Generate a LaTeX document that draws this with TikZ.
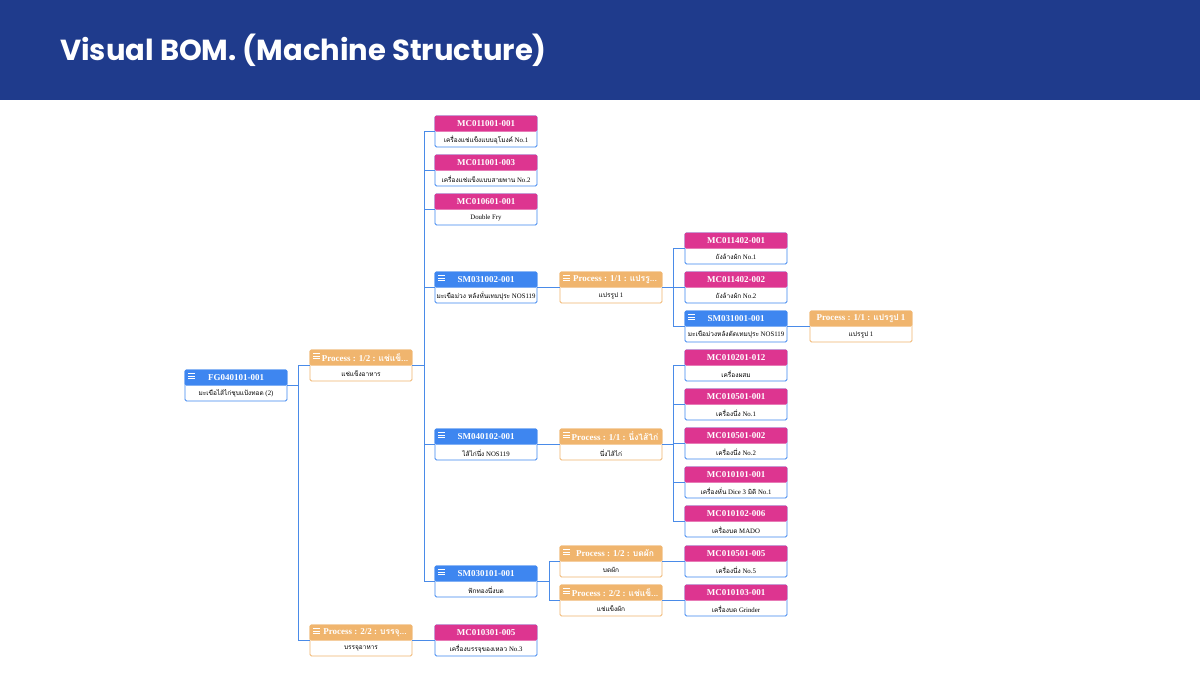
\documentclass[tikz,border=0pt]{standalone}
\usepackage{fontspec}
\setmainfont{Liberation Serif}
\newfontfamily\thaifont[Script=Thai]{Loma}
\newfontfamily\titlefont{Poppins}
\newcommand{\T}[1]{{\thaifont\fontsize{6.5}{7}\selectfont #1}}
\definecolor{hdr}{HTML}{1F3B8C}
\definecolor{cblue}{HTML}{3E86F0}
\definecolor{cpink}{HTML}{DD3590}
\definecolor{corg}{HTML}{F0B56E}
\definecolor{lnk}{HTML}{4A8BE8}
\tikzset{
  box/.style={draw=#1, fill=white, line width=0.8pt, rounded corners=1.5pt, minimum width=102pt, minimum height=31pt, inner sep=0pt},
  ttl/.style={text=white, font=\bfseries\fontsize{9}{10}\selectfont, inner sep=0pt},
  bdy/.style={text=black, font=\fontsize{6.8}{8}\selectfont, inner sep=0pt},
  lk/.style={draw=lnk, line width=1pt}
}
% name, x, y (top-left px), header color, title, body, icon(1/0), border color
\newcommand{\bom}[8]{%
  \node[box=#8] (#1) at (#2+51,#3+15.5) {};
  \fill[#4, rounded corners=1.5pt] (#1.west) -- (#1.north west) -- (#1.north east) -- (#1.east) -- cycle;
  \node[ttl] at ([yshift=-8pt]#1.north) {#5};
  \node[bdy] at ([yshift=7.5pt]#1.south) {#6};
  \ifnum#7=1
    \foreach \k in {0,2.6,5.2}{\draw[white,line width=1.1pt] ([xshift=3.5pt,yshift=-4pt-\k pt]#1.north west) -- ++(6.5pt,0);}
  \fi
}
\begin{document}
\begin{tikzpicture}[x=1pt,y=-1pt]
\useasboundingbox (0,0) rectangle (1200,675);
\fill[white] (0,0) rectangle (1200,675);
\fill[hdr] (0,0) rectangle (1200,100);
\node[anchor=west, text=white, font=\titlefont\bfseries\fontsize{29}{33}\selectfont, inner sep=0pt] (title) at (60,50) {Visual BOM. (Machine Structure)};

\bom{fg}{185}{370}{cblue}{FG040101-001}{\T{มะเขือไส้ไก่ชุบแป้งทอด} (2)}{1}{cblue}
\bom{p1}{310}{350}{corg}{\hspace{8pt}Process : 1/2 : \T{\bfseries\fontsize{8.5}{9}\selectfont แช่แข็...}}{\T{แช่แข็งอาหาร}}{1}{corg}
\bom{p2}{310}{625}{corg}{\hspace{8pt}Process : 2/2 : \T{\bfseries\fontsize{8.5}{9}\selectfont บรรจุ...}}{\T{บรรจุอาหาร}}{1}{corg}

\bom{m1}{435}{116}{cpink}{MC011001-001}{\T{เครื่องแช่แข็งแบบอุโมงค์} No.1}{0}{cblue}
\bom{m2}{435}{155}{cpink}{MC011001-003}{\T{เครื่องแช่แข็งแบบสายพาน} No.2}{0}{cblue}
\bom{m3}{435}{194}{cpink}{MC010601-001}{Double Fry}{0}{cblue}
\bom{s1}{435}{272}{cblue}{SM031002-001}{\T{มะเขือม่วง หลังหั่นเทมปุระ} NOS119}{1}{cblue}
\bom{s2}{435}{429}{cblue}{SM040102-001}{\T{ไส้ไก่นึ่ง} NOS119}{1}{cblue}
\bom{s3}{435}{566}{cblue}{SM030101-001}{\T{ฟักทองนึ่งบด}}{1}{cblue}
\bom{m4}{435}{625}{cpink}{MC010301-005}{\T{เครื่องบรรจุของเหลว} No.3}{0}{cblue}

\bom{q1}{560}{272}{corg}{\hspace{8pt}Process : 1/1 : \T{\bfseries\fontsize{8.5}{9}\selectfont แปรรู...}}{\T{แปรรูป} 1}{1}{corg}
\bom{q2}{560}{429}{corg}{\hspace{8pt}Process : 1/1 : \T{\bfseries\fontsize{8.5}{9}\selectfont นึ่งไส้ไก่}}{\T{นึ่งไส้ไก่}}{1}{corg}
\bom{q3}{560}{546}{corg}{\hspace{8pt}Process : 1/2 : \T{\bfseries\fontsize{8.5}{9}\selectfont บดผัก}}{\T{บดผัก}}{1}{corg}
\bom{q4}{560}{585}{corg}{\hspace{8pt}Process : 2/2 : \T{\bfseries\fontsize{8.5}{9}\selectfont แช่แข็...}}{\T{แช่แข็งผัก}}{1}{corg}

\bom{a1}{685}{233}{cpink}{MC011402-001}{\T{ถังล้างผัก} No.1}{0}{cblue}
\bom{a2}{685}{272}{cpink}{MC011402-002}{\T{ถังล้างผัก} No.2}{0}{cblue}
\bom{a3}{685}{311}{cblue}{SM031001-001}{\T{มะเขือม่วงหลังตัดเทมปุระ} NOS119}{1}{cblue}
\bom{b1}{685}{350}{cpink}{MC010201-012}{\T{เครื่องผสม}}{0}{cblue}
\bom{b2}{685}{389}{cpink}{MC010501-001}{\T{เครื่องนึ่ง} No.1}{0}{cblue}
\bom{b3}{685}{428}{cpink}{MC010501-002}{\T{เครื่องนึ่ง} No.2}{0}{cblue}
\bom{b4}{685}{467}{cpink}{MC010101-001}{\T{เครื่องหั่น} Dice 3 \T{มิติ} No.1}{0}{cblue}
\bom{b5}{685}{506}{cpink}{MC010102-006}{\T{เครื่องบด} MADO}{0}{cblue}
\bom{c1}{685}{546}{cpink}{MC010501-005}{\T{เครื่องนึ่ง} No.5}{0}{cblue}
\bom{c2}{685}{585}{cpink}{MC010103-001}{\T{เครื่องบด} Grinder}{0}{cblue}

\bom{r1}{810}{311}{corg}{Process : 1/1 : \T{\bfseries\fontsize{8.5}{9}\selectfont แปรรูป} 1}{\T{แปรรูป} 1}{0}{corg}

% connectors
\foreach \c in {p1,p2} \draw[lk] (fg.east) -- ++(11,0) |- (\c.west);
\foreach \c in {m1,m2,m3,s1,s2,s3} \draw[lk] (p1.east) -- ++(12,0) |- (\c.west);
\draw[lk] (p2.east) -- (m4.west);
\draw[lk] (s1.east) -- (q1.west);
\draw[lk] (s2.east) -- (q2.west);
\foreach \c in {q3,q4} \draw[lk] (s3.east) -- ++(12,0) |- (\c.west);
\foreach \c in {a1,a2,a3} \draw[lk] (q1.east) -- ++(11,0) |- (\c.west);
\foreach \c in {b1,b2,b3,b4,b5} \draw[lk] (q2.east) -- ++(11,0) |- (\c.west);
\draw[lk] (q3.east) -- (c1.west);
\draw[lk] (q4.east) -- (c2.west);
\draw[lk] (a3.east) -- (r1.west);
\end{tikzpicture}
\end{document}
